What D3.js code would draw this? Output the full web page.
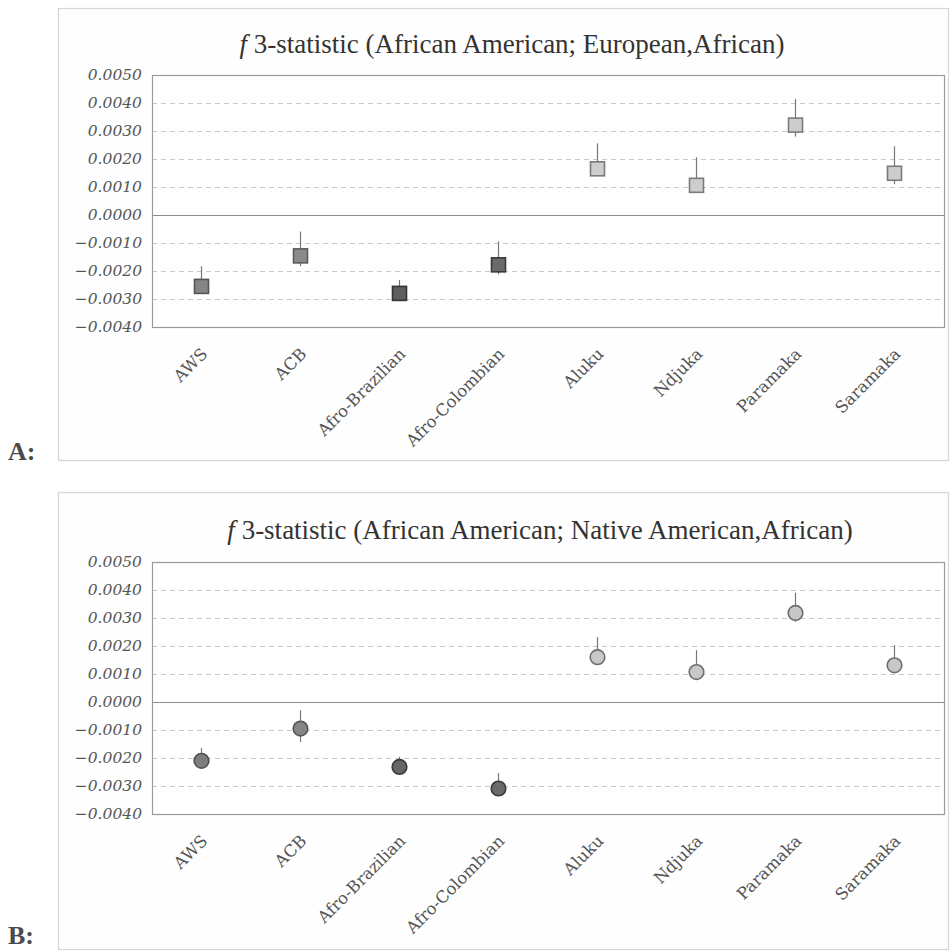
<!DOCTYPE html>
<html>
<head>
<meta charset="utf-8">
<script src="https://cdn.jsdelivr.net/npm/d3@7"></script>
<style>
  html, body { margin: 0; padding: 0; background: #fff; }
  svg { display: block; }
</style>
</head>
<body>
<svg id="chart" width="952" height="951"></svg>
<script>
// ---------- data ----------
const categories = ["AWS", "ACB", "Afro-Brazilian", "Afro-Colombian", "Aluku", "Ndjuka", "Paramaka", "Saramaka"];
const yTickValues = [0.005, 0.004, 0.003, 0.002, 0.001, 0.000, -0.001, -0.002, -0.003, -0.004];

const titleA = "European,African";
const valuesA = [-0.00255, -0.00146, -0.00280, -0.00178, 0.00165, 0.00106, 0.00321, 0.00149];
const upperA  = [-0.00183, -0.00059, -0.00232, -0.00094, 0.00256, 0.00206, 0.00414, 0.00245];
const lowerA  = [-0.00280, -0.00183, -0.00300, -0.00212, 0.00140, 0.00085, 0.00280, 0.00110];

const titleB = "Native American,African";
const valuesB = [-0.00210, -0.00095, -0.00232, -0.00309, 0.00160, 0.00107, 0.00318, 0.00131];
const upperB  = [-0.00165, -0.00030, -0.00196, -0.00254, 0.00232, 0.00185, 0.00390, 0.00203];
const lowerB  = [-0.00230, -0.00143, -0.00250, -0.00330, 0.00140, 0.00090, 0.00286, 0.00104];

// marker styles (per category)
const fillsA   = ["#858585", "#8a8a8a", "#5e5e5e", "#6a6a6a", "#cdcdcd", "#cdcdcd", "#cdcdcd", "#cdcdcd"];
const strokesA = ["#555555", "#5a5a5a", "#333333", "#3a3a3a", "#7a7a7a", "#7a7a7a", "#7a7a7a", "#7a7a7a"];
const fillsB   = ["#7e7e7e", "#858585", "#666666", "#6a6a6a", "#c8c8c8", "#c8c8c8", "#c8c8c8", "#c8c8c8"];
const strokesB = ["#505050", "#555555", "#3a3a3a", "#3a3a3a", "#6e6e6e", "#6e6e6e", "#6e6e6e", "#6e6e6e"];

// ---------- drawing ----------
const svg = d3.select("#chart");
const fmt = v => {
  const s = Math.abs(v).toFixed(4);
  return (v < -1e-9 ? "\u2212" : "") + s;
};

function panel(cfg) {
  const g = svg.append("g");
  // outer frame
  g.append("rect")
    .attr("x", cfg.box[0] + 0.5).attr("y", cfg.box[1] + 0.5)
    .attr("width", cfg.box[2] - cfg.box[0]).attr("height", cfg.box[3] - cfg.box[1])
    .attr("fill", "#fefefe").attr("stroke", "#d6d6d6").attr("stroke-width", 1.2);

  // panel letter
  svg.append("text")
    .attr("x", 8).attr("y", cfg.letterY)
    .attr("font-family", "Liberation Serif, serif")
    .attr("font-weight", "bold").attr("font-size", 26)
    .attr("fill", "#4a4a4a")
    .text(cfg.letter);

  // title
  const t = g.append("text")
    .attr("x", cfg.titleX).attr("y", cfg.titleY)
    .attr("text-anchor", "middle")
    .attr("font-family", "Liberation Serif, serif")
    .attr("font-size", 27).attr("fill", "#333");
  t.append("tspan").attr("font-style", "italic").text("f");
  t.append("tspan").text(" 3-statistic (African American; " + cfg.title + ")");

  const x = d3.scaleBand().domain(categories).range([cfg.left, cfg.right]).padding(0);
  const y = d3.scaleLinear().domain([-0.004, 0.005]).range([cfg.bottom, cfg.top]);

  // plot background
  g.append("rect")
    .attr("x", cfg.left).attr("y", cfg.top)
    .attr("width", cfg.right - cfg.left).attr("height", cfg.bottom - cfg.top)
    .attr("fill", "#fff");

  // gridlines
  g.append("g").selectAll("line")
    .data(yTickValues.filter(v => Math.abs(v) > 1e-9 && v < 0.0049 && v > -0.0039))
    .join("line")
    .attr("x1", cfg.left).attr("x2", cfg.right)
    .attr("y1", d => Math.round(y(d)) + 0.5).attr("y2", d => Math.round(y(d)) + 0.5)
    .attr("stroke", "#c8c8c8").attr("stroke-width", 1)
    .attr("stroke-dasharray", "5,4");

  // zero line
  g.append("line")
    .attr("x1", cfg.left).attr("x2", cfg.right)
    .attr("y1", Math.round(y(0)) + 0.5).attr("y2", Math.round(y(0)) + 0.5)
    .attr("stroke", "#8c8c8c").attr("stroke-width", 1.2);

  // plot border
  g.append("rect")
    .attr("x", cfg.left + 0.5).attr("y", cfg.top + 0.5)
    .attr("width", cfg.right - cfg.left).attr("height", cfg.bottom - cfg.top)
    .attr("fill", "none").attr("stroke", "#9a9a9a").attr("stroke-width", 1.2);

  // y axis labels
  const yAxis = d3.axisLeft(y).tickValues(yTickValues).tickFormat(fmt).tickSize(0).tickPadding(10);
  const ya = g.append("g").attr("transform", `translate(${cfg.left},0)`).call(yAxis);
  ya.select(".domain").remove();
  ya.selectAll("text")
    .attr("font-family", "DejaVu Serif, serif")
    .attr("font-style", "italic")
    .attr("font-size", 15.5)
    .attr("fill", "#555");

  // x axis labels
  const xAxis = d3.axisBottom(x).tickSize(0).tickPadding(0);
  const xa = g.append("g").attr("transform", `translate(0,${cfg.bottom})`).call(xAxis);
  xa.select(".domain").remove();
  xa.selectAll("text")
    .attr("font-family", "DejaVu Serif, serif")
    .attr("font-size", 16.5)
    .attr("fill", "#555")
    .attr("text-anchor", "end")
    .attr("dy", 0)
    .attr("y", 0)
    .attr("transform", "translate(7,28) rotate(-45)");

  // error bars
  const cx = d => x(d) + x.bandwidth() / 2;
  g.append("g").selectAll("line")
    .data(categories)
    .join("line")
    .attr("x1", d => cx(d)).attr("x2", d => cx(d))
    .attr("y1", (d, i) => y(cfg.upper[i]))
    .attr("y2", (d, i) => y(cfg.lower[i]))
    .attr("stroke", "#777").attr("stroke-width", 1.2);

  // markers
  const s = 14;
  if (cfg.shape === "square") {
    g.append("g").selectAll("rect")
      .data(categories)
      .join("rect")
      .attr("x", d => cx(d) - s / 2)
      .attr("y", (d, i) => y(cfg.values[i]) - s / 2)
      .attr("width", s).attr("height", s)
      .attr("fill", (d, i) => cfg.fills[i])
      .attr("stroke", (d, i) => cfg.strokes[i])
      .attr("stroke-width", 1.6);
  } else {
    g.append("g").selectAll("circle")
      .data(categories)
      .join("circle")
      .attr("cx", d => cx(d))
      .attr("cy", (d, i) => y(cfg.values[i]))
      .attr("r", 7.3)
      .attr("fill", (d, i) => cfg.fills[i])
      .attr("stroke", (d, i) => cfg.strokes[i])
      .attr("stroke-width", 1.6);
  }
}

panel({
  letter: "A:", letterY: 460, box: [58, 8, 948, 460],
  title: titleA, titleX: 512, titleY: 53,
  left: 152, right: 944, top: 75, bottom: 327,
  values: valuesA, upper: upperA, lower: lowerA,
  fills: fillsA, strokes: strokesA, shape: "square"
});

panel({
  letter: "B:", letterY: 944, box: [58, 492, 948, 949],
  title: titleB, titleX: 540, titleY: 539,
  left: 152, right: 944, top: 562, bottom: 814,
  values: valuesB, upper: upperB, lower: lowerB,
  fills: fillsB, strokes: strokesB, shape: "circle"
});
</script>
</body>
</html>
